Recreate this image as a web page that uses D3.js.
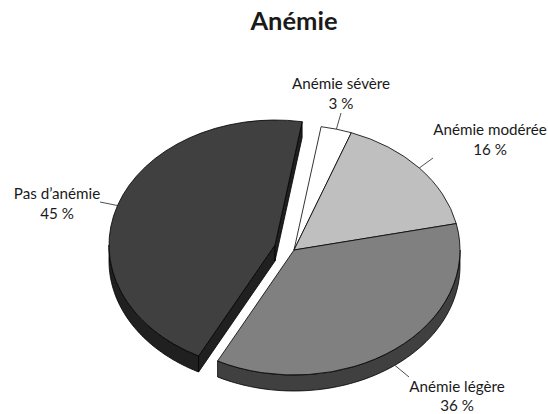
<!DOCTYPE html>
<html>
<head>
<meta charset="utf-8">
<script src="https://cdn.jsdelivr.net/npm/d3@7"></script>
<style>
  html, body { margin: 0; background: #fff; }
  text { font-family: Lato, sans-serif; fill: #1a1a1a; }
</style>
</head>
<body>
<script>
'use strict';

const categories = ['Anémie sévère', 'Anémie modérée', 'Anémie légère', 'Pas d’anémie'];
const values = [3, 16, 36, 45];
const chartTitle = 'Anémie';

const topColors = ['#ffffff', '#bfbfbf', '#808080', '#404040'];
const wallColors = ['#bfbfbf', '#808080', '#404040', '#202020'];
const explode = [[0, 0], [0, 0], [0, 0], [-19, -5]];
const labelPos = [[341, 89], [490, 135], [457, 392], [57, 199]];
const leaderEnd = [[341, 113], [433, 158], [409, 377], [100, 202]];

const width = 548, height = 414;
const cx = 294, cy = 250, rx = 166, ry = 125, depth = 16;
const startAngle = 9.4 * Math.PI / 180;

const svg = d3.select('body').append('svg')
  .attr('width', width)
  .attr('height', height)
  .style('display', 'block');

svg.append('text')
  .attr('x', 294)
  .attr('y', 30)
  .attr('text-anchor', 'middle')
  .style('font-size', '25.5px')
  .style('font-weight', 700)
  .text(chartTitle);

const pie = d3.pie().sort(null).startAngle(startAngle).endAngle(startAngle + 2 * Math.PI);
const arcs = pie(values);
const arc = d3.arc().innerRadius(0).outerRadius(rx);

// point on the flattened rim, a = pie angle (0 at top, clockwise)
function rim(a, i, dy) {
  return [
    cx + explode[i][0] + rx * Math.sin(a),
    cy + explode[i][1] + ry * -Math.cos(a) + dy
  ];
}
const line = d3.line();

// side walls first, only the front half of the rim shows
arcs.forEach((d, i) => {
  const from = Math.max(d.startAngle, Math.PI / 2);
  const to = Math.min(d.endAngle, 3 * Math.PI / 2);
  if (to <= from) return;
  const steps = d3.range(0, 61).map(k => from + (to - from) * k / 60);
  const pts = steps.map(a => rim(a, i, 0)).concat(steps.slice().reverse().map(a => rim(a, i, depth)));
  svg.append('path')
    .attr('d', line(pts) + 'Z')
    .attr('fill', wallColors[i])
    .attr('stroke', '#000')
    .attr('stroke-width', 0.8);
});

// cut faces of the pulled out slice
const last = arcs.length - 1;
const apex = [cx + explode[last][0], cy + explode[last][1]];
[arcs[last].startAngle, arcs[last].endAngle].forEach(a => {
  const p = rim(a, last, 0);
  const pts = [apex, p, [p[0], p[1] + depth], [apex[0], apex[1] + depth]];
  svg.append('path')
    .attr('d', line(pts) + 'Z')
    .attr('fill', wallColors[last])
    .attr('stroke', '#000')
    .attr('stroke-width', 0.8);
});

// top faces
svg.selectAll('.slice')
  .data(arcs)
  .enter()
  .append('path')
    .attr('class', 'slice')
    .attr('d', arc)
    .attr('transform', (d, i) => 'translate(' + (cx + explode[i][0]) + ',' + (cy + explode[i][1]) + ') scale(1,' + (ry / rx) + ')')
    .attr('fill', (d, i) => topColors[i])
    .attr('stroke', '#000')
    .attr('stroke-width', 0.8)
    .attr('vector-effect', 'non-scaling-stroke');

// leaders and labels
arcs.forEach((d, i) => {
  const mid = (d.startAngle + d.endAngle) / 2;
  const front = Math.cos(mid) < 0;
  const p = rim(mid, i, front ? depth : 0);
  svg.append('line')
    .attr('x1', p[0]).attr('y1', p[1])
    .attr('x2', leaderEnd[i][0]).attr('y2', leaderEnd[i][1])
    .attr('stroke', '#222')
    .attr('stroke-width', 0.8);

  const t = svg.append('text')
    .attr('text-anchor', 'middle')
    .style('font-size', '15.2px');
  t.append('tspan')
    .attr('x', labelPos[i][0]).attr('y', labelPos[i][1])
    .text(categories[i]);
  t.append('tspan')
    .attr('x', labelPos[i][0]).attr('y', Math.min(labelPos[i][1] + 20, 411))
    .text(values[i] + ' %');
});
</script>
</body>
</html>
